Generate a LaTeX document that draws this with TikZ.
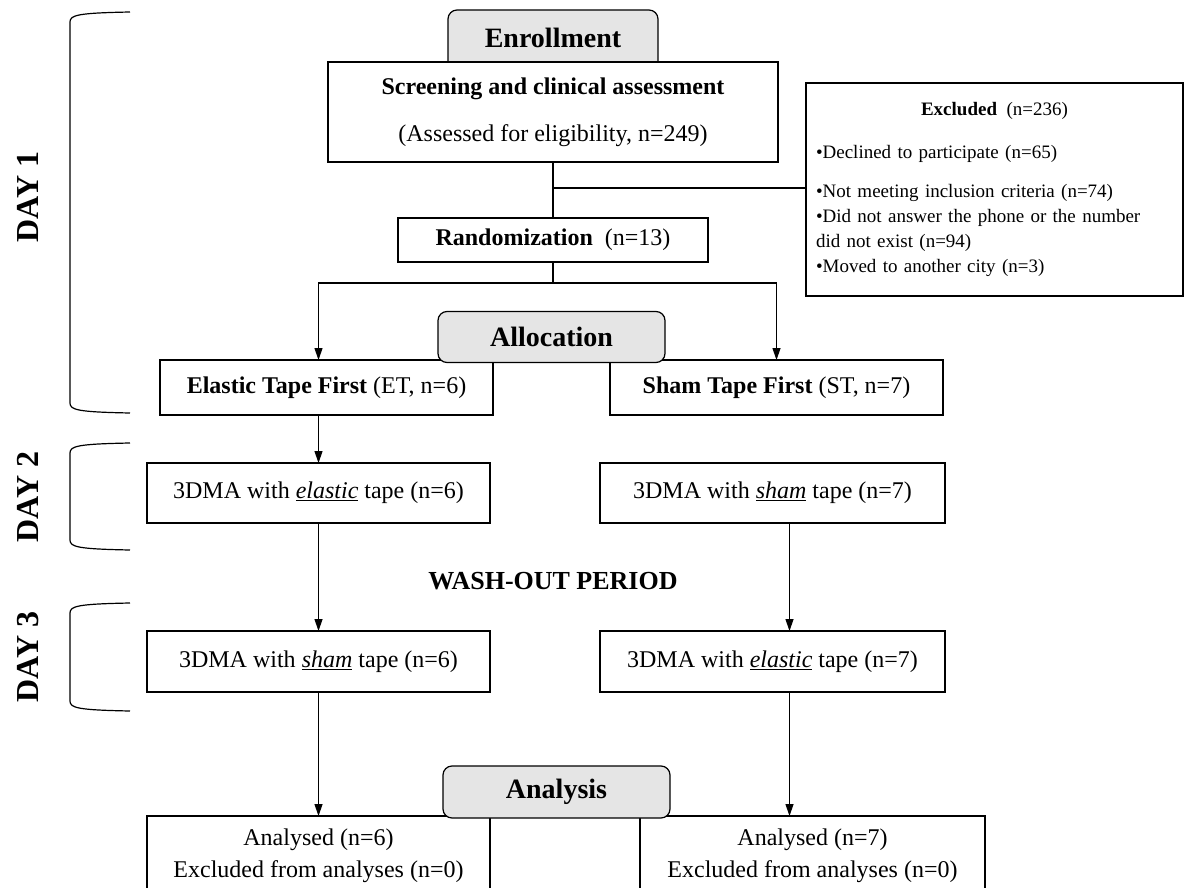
\documentclass[tikz,border=0pt]{standalone}
\usepackage{fontspec}
\setmainfont{Liberation Serif}
\usetikzlibrary{positioning,calc,arrows.meta}

\newcommand\boxfont{\fontsize{24}{28}\selectfont}
\newcommand\headfont{\fontsize{28}{32}\selectfont\bfseries}
\newcommand\exclfont{\fontsize{19}{25}\selectfont}

\begin{document}
\begin{tikzpicture}[x=1pt,y=-1pt,
    box/.style={draw,line width=1.2pt,fill=white,inner sep=0pt,outer sep=0pt,align=center,font=\boxfont},
    stage/.style={draw,line width=1.2pt,rounded corners=9pt,fill=black!10,inner sep=0pt,outer sep=0pt,font=\headfont,minimum width=227pt,minimum height=51pt},
    link/.style={line width=1.2pt},
    arr/.style={link,-{Triangle[length=12pt,width=8pt]}},
    daybrace/.style={line width=1.2pt},
    daylabel/.style={rotate=90,font=\fontsize{32}{36}\selectfont\bfseries}]

  \useasboundingbox (0,0) rectangle (1184,888);

  \node[stage,minimum width=210pt,minimum height=60pt] (enroll) at (553,40) {\raisebox{4pt}{Enrollment}};
  \node[box,minimum width=450pt,minimum height=100pt] (screen) at (553,112)
    {\textbf{Screening and clinical assessment}\\[19pt](Assessed for eligibility, n=249)};
  \node[box,font=\exclfont,align=left,text width=357pt,inner xsep=10pt,minimum height=213pt] (excl) at (994.5,189.5)
    {\makebox[357pt]{\textbf{Excluded}\enspace(n=236)}\\[18pt]
     \textbullet Declined to participate (n=65)\\[14pt]
     \textbullet Not meeting inclusion criteria (n=74)\\
     \textbullet Did not answer the phone or the number\\
     did not exist (n=94)\\
     \textbullet Moved to another city (n=3)};
  \node[box,minimum width=310pt,minimum height=44pt] (rand) at (553,240) {\textbf{Randomization}\enspace(n=13)};

  \node[box,minimum width=333pt,minimum height=55pt] (etf) at (326.5,387.5) {\textbf{Elastic Tape First} (ET, n=6)};
  \node[box,minimum width=333pt,minimum height=55pt] (stf) at (776.5,387.5) {\textbf{Sham Tape First} (ST, n=7)};
  \node[stage] (alloc) at (551.5,337) {Allocation};

  \node[box,minimum width=343pt,minimum height=60pt] (dtwoL) at (318.5,493) {3DMA with \underline{\textit{elastic}} tape (n=6)};
  \node[box,minimum width=345pt,minimum height=60pt] (dtwoR) at (772.5,493) {3DMA with \underline{\textit{sham}} tape (n=7)};
  \node[font=\fontsize{26}{30}\selectfont\bfseries] (wash) at (553,581) {WASH-OUT PERIOD};
  \node[box,minimum width=343pt,minimum height=61pt] (dthreeL) at (318.5,661.5) {3DMA with \underline{\textit{sham}} tape (n=6)};
  \node[box,minimum width=345pt,minimum height=61pt] (dthreeR) at (772.5,661.5) {3DMA with \underline{\textit{elastic}} tape (n=7)};

  \node[box,minimum width=343pt,minimum height=80pt] (anaL) at (318.5,856) {Analysed (n=6)\\[4pt]Excluded from analyses (n=0)};
  \node[box,minimum width=345pt,minimum height=80pt] (anaR) at (812.5,856) {Analysed (n=7)\\[4pt]Excluded from analyses (n=0)};
  \node[stage,minimum height=52pt] (anal) at (556.5,792) {Analysis};

  \coordinate (split) at (553,188);
  \coordinate (fork) at (553,283);
  \draw[link] (screen.south) -- (rand.north);
  \draw[link] (split) -- (split -| excl.west);
  \draw[link] (rand.south) -- (fork);
  \draw[arr] (fork) -| (dtwoL.center |- etf.north);
  \draw[arr] (fork) -| (stf.north);
  \draw[arr] (etf.south -| dtwoL.north) -- (dtwoL.north);
  \draw[arr] (dtwoL.south) -- (dthreeL.north);
  \draw[arr] ([xshift=17pt]dtwoR.south) -- ([xshift=17pt]dthreeR.north);
  \draw[arr] (dthreeL.south) -- (anaL.north);
  \draw[arr] ([xshift=17pt]dthreeR.south) -- ([xshift=17pt]dthreeR.south |- anaR.north);

  \foreach \ya/\yb in {12/413,443/550,603/711}
    \draw[daybrace] (130,\ya) .. controls (78,\ya+1) and (70,\ya+3) .. (70,\ya+10) -- (70,\yb-10)
      .. controls (70,\yb-3) and (78,\yb-1) .. (130,\yb);

  \node[daylabel] (dayone) at (28,197) {DAY 1};
  \node[daylabel] (daytwo) at (28,497) {DAY 2};
  \node[daylabel] (daythree) at (28,657) {DAY 3};
\end{tikzpicture}
\end{document}
